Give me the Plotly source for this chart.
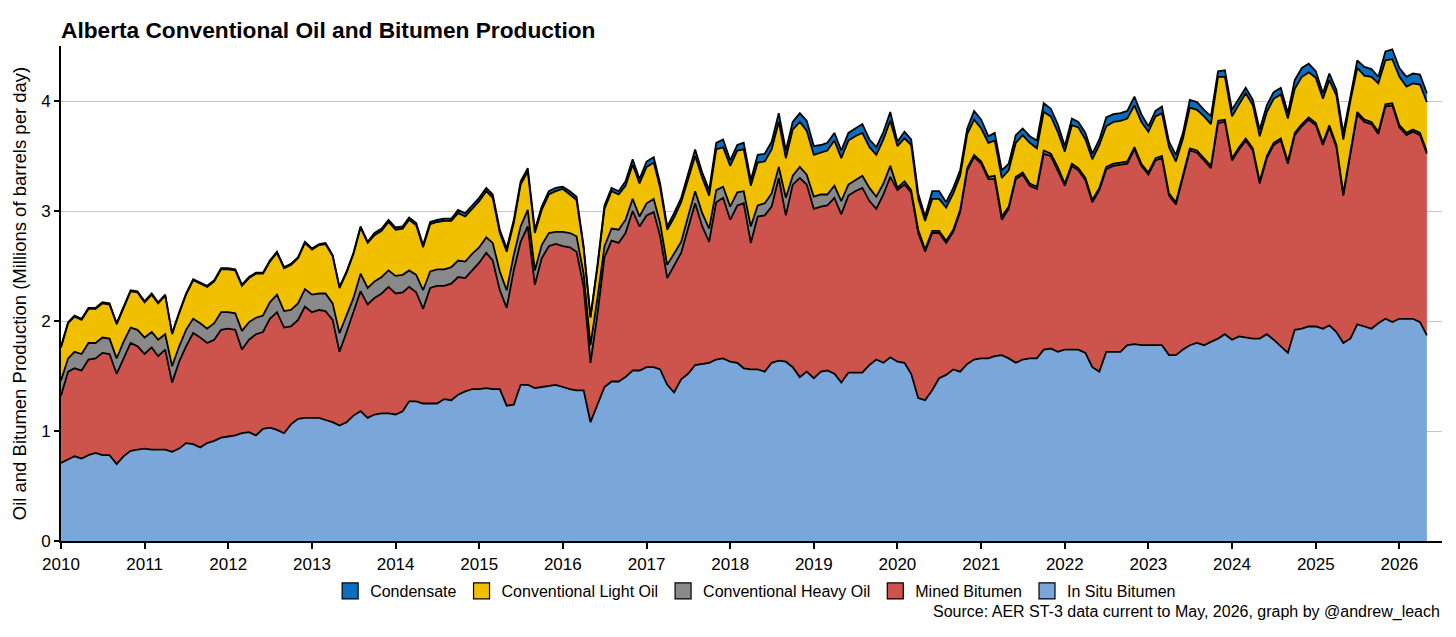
import pandas as pd
import plotly.graph_objects as go

# Monthly values, Jan 2010 - May 2026 (millions of barrels per day)
insitu = [
    .71, .74, .77, .75, .78, .80, .78, .78, .70, .77, .82, .83,
    .84, .83, .83, .83, .81, .84, .89, .88, .85, .89, .91, .94,
    .95, .96, .98, .99, .96, 1.02, 1.03, 1.01, .98, 1.06, 1.11, 1.12,
    1.12, 1.12, 1.10, 1.08, 1.05, 1.08, 1.14, 1.18, 1.12, 1.15, 1.16, 1.16,
    1.15, 1.18, 1.27, 1.27, 1.25, 1.25, 1.25, 1.29, 1.28, 1.33, 1.36, 1.38,
    1.38, 1.39, 1.38, 1.38, 1.23, 1.24, 1.42, 1.42, 1.39, 1.40, 1.41, 1.42,
    1.40, 1.38, 1.37, 1.37, 1.08, 1.24, 1.40, 1.45, 1.45, 1.49, 1.55, 1.55,
    1.58, 1.58, 1.56, 1.42, 1.35, 1.47, 1.52, 1.60, 1.61, 1.62, 1.65, 1.66,
    1.63, 1.62, 1.57, 1.56, 1.56, 1.54, 1.62, 1.64, 1.63, 1.58, 1.49, 1.54,
    1.48, 1.54, 1.55, 1.52, 1.44, 1.53, 1.53, 1.53, 1.60, 1.65, 1.62, 1.67,
    1.63, 1.62, 1.52, 1.30, 1.28, 1.37, 1.48, 1.51, 1.56, 1.54, 1.61, 1.65,
    1.66, 1.66, 1.68, 1.69, 1.66, 1.62, 1.65, 1.66, 1.66, 1.74, 1.75, 1.72,
    1.74, 1.74, 1.74, 1.71, 1.58, 1.54, 1.72, 1.72, 1.72, 1.78, 1.79, 1.78,
    1.78, 1.78, 1.78, 1.69, 1.69, 1.74, 1.78, 1.80, 1.78, 1.81,
    1.84, 1.88, 1.83, 1.86, 1.85, 1.84, 1.84, 1.88, 1.83, 1.77, 1.71, 1.92,
    1.93, 1.95, 1.95, 1.93, 1.96, 1.90, 1.80, 1.84, 1.97, 1.95, 1.93, 1.98,
    2.02, 1.99, 2.02, 2.02, 2.02, 1.99, 1.87,
]

mined = [
    .61, .80, .80, .80, .87, .86, .93, .92, .82, .89, .98, .94,
    .86, .93, .85, .91, .63, .79, .88, 1.01, 1.00, .91, .92, .98,
    .98, .96, .76, .84, .92, .88, .99, 1.07, .96, .89, .90, 1.01,
    .96, .98, .99, .93, .67, .82, .94, 1.09, 1.03, 1.06, 1.09, 1.15,
    1.10, 1.08, 1.04, .99, .86, 1.05, 1.07, 1.03, 1.06, 1.07, 1.03, 1.08,
    1.15, 1.23, 1.17, .90, .89, 1.22, 1.30, 1.44, .94, 1.17, 1.27, 1.28,
    1.28, 1.29, 1.26, .94, .54, .83, 1.18, 1.28, 1.26, 1.31, 1.45, 1.31,
    1.38, 1.41, 1.21, .97, 1.16, 1.15, 1.32, 1.47, 1.25, 1.10, 1.43, 1.46,
    1.29, 1.43, 1.50, 1.15, 1.39, 1.42, 1.42, 1.66, 1.33, 1.66, 1.81, 1.70,
    1.54, 1.50, 1.50, 1.60, 1.53, 1.61, 1.65, 1.68, 1.49, 1.37, 1.53, 1.64,
    1.56, 1.62, 1.65, 1.50, 1.35, 1.43, 1.32, 1.20, 1.25, 1.45, 1.76, 1.84,
    1.77, 1.63, 1.61, 1.23, 1.36, 1.67, 1.68, 1.57, 1.54, 1.78, 1.75, 1.65,
    1.49, 1.67, 1.63, 1.57, 1.50, 1.65, 1.66, 1.69, 1.70, 1.65, 1.77, 1.63,
    1.55, 1.68, 1.70, 1.45, 1.37, 1.56, 1.77, 1.73, 1.68, 1.58,
    1.96, 1.93, 1.63, 1.70, 1.79, 1.71, 1.41, 1.60, 1.77, 1.87, 1.72, 1.77,
    1.84, 1.88, 1.83, 1.67, 1.80, 1.68, 1.34, 1.69, 1.91, 1.86, 1.86, 1.72,
    1.93, 1.97, 1.74, 1.67, 1.70, 1.70, 1.65,
]

heavy = [
    .14, .12, .15, .15, .15, .14, .14, .14, .14, .15, .14, .15,
    .15, .14, .15, .14, .15, .14, .15, .13, .13, .13, .15, .16,
    .15, .15, .17, .16, .15, .15, .15, .16, .15, .15, .15, .16,
    .16, .15, .16, .15, .17, .15, .13, .16, .15, .15, .15, .15,
    .16, .16, .15, .16, .17, .15, .15, .15, .15, .15, .15, .15,
    .14, .14, .16, .17, .16, .14, .14, .15, .13, .12, .12, .11,
    .13, .13, .14, .12, .16, .15, .10, .11, .12, .12, .11, .09,
    .11, .12, .12, .12, .11, .10, .11, .11, .12, .12, .11, .10,
    .12, .12, .11, .15, .10, .11, .12, .10, .16, .08, .10, .09,
    .11, .11, .10, .11, .12, .10, .10, .11, .12, .11, .10, .10,
    .02, .03, .02, .03, .02, .02, .02, .02, .02, .02, .02, .02,
    .02, .02, .03, .03, .02, .02, .02, .02, .02, .03, .02, .03,
    .02, .02, .02, .02, .02, .02, .02, .02, .02, .02, .02, .02,
    .02, .02, .02, .02, .02, .02, .02, .02, .02, .02,
    .02, .02, .02, .02, .02, .02, .02, .02, .02, .02, .02, .02,
    .02, .02, .02, .02, .02, .02, .02, .02, .02, .02, .02, .02,
    .02, .02, .02, .02, .02, .02, .02,
]

light = [
    .30, .32, .32, .31, .31, .31, .31, .31, .31, .30, .33, .34,
    .32, .34, .33, .35, .29, .30, .32, .35, .36, .38, .38, .39,
    .39, .39, .41, .40, .40, .38, .37, .38, .39, .41, .41, .42,
    .41, .44, .45, .43, .41, .39, .40, .42, .41, .42, .42, .44,
    .42, .42, .46, .45, .39, .43, .43, .44, .42, .43, .41, .41,
    .42, .42, .41, .35, .35, .29, .38, .35, .34, .32, .35, .37,
    .39, .35, .33, .23, .25, .28, .34, .34, .32, .31, .31, .30,
    .33, .33, .32, .32, .32, .36, .34, .32, .32, .30, .37, .36,
    .37, .38, .38, .37, .39, .38, .40, .41, .36, .42, .41, .40,
    .38, .38, .40, .41, .39, .40, .40, .39, .37, .38, .40, .41,
    .38, .39, .41, .28, .26, .29, .29, .30, .33, .31, .31, .32,
    .30, .31, .32, .35, .33, .31, .34, .37, .35, .35, .34, .32,
    .29, .35, .37, .35, .37, .39, .37, .38, .38, .39, .38, .38,
    .37, .38, .39, .42, .37, .34, .37, .37, .38, .38,
    .40, .39, .38, .39, .41, .39, .41, .40, .40, .40, .39, .40,
    .43, .41, .41, .40, .41, .45, .49, .45, .40, .40, .41, .44,
    .40, .40, .44, .42, .42, .44, .45,
]

condensate = [
    .01, .01, .01, .01, .01, .01, .01, .01, .01, .01, .01, .01,
    .01, .01, .01, .01, .01, .01, .01, .01, .01, .01, .01, .01,
    .01, .01, .01, .01, .01, .01, .01, .01, .01, .01, .01, .01,
    .01, .01, .01, .01, .01, .01, .01, .01, .01, .02, .02, .02,
    .02, .02, .02, .02, .02, .02, .02, .02, .02, .03, .03, .03,
    .03, .03, .03, .03, .03, .03, .03, .03, .03, .03, .03, .03,
    .02, .03, .03, .02, .01, .02, .03, .03, .03, .04, .05, .04,
    .05, .05, .04, .03, .04, .04, .05, .06, .05, .05, .06, .07,
    .05, .05, .06, .05, .07, .07, .07, .08, .07, .07, .08, .09,
    .08, .07, .07, .07, .07, .07, .07, .08, .07, .07, .07, .08,
    .04, .06, .05, .05, .04, .07, .07, .05, .05, .05, .05, .08,
    .08, .06, .07, .07, .06, .07, .06, .06, .07, .08, .07, .07,
    .05, .06, .05, .06, .05, .05, .08, .07, .07, .07, .08, .07,
    .05, .05, .06, .05, .06, .05, .07, .07, .06, .07,
    .05, .06, .06, .05, .05, .05, .06, .06, .06, .06, .05, .08,
    .08, .08, .06, .05, .06, .05, .06, .04, .07, .08, .07, .06,
    .08, .09, .08, .09, .09, .09, .08,
]

series_names = ["In Situ Bitumen", "Mined Bitumen", "Conventional Heavy Oil",
                "Conventional Light Oil", "Condensate"]
series_colors = ["#7BA6DA", "#CD534D", "#898989", "#F0C000", "#0A6EBE"]
year_ticks = list(range(2010, 2027))

dates = pd.date_range("2010-01-01", periods=len(insitu), freq="MS")
series_values = [insitu, mined, heavy, light, condensate]

FONT = "Liberation Sans, Arial, sans-serif"

# page body adds an 8px offset; the figure is sized to fit the 1456x637 window
W, H = 1448, 629

fig = go.Figure()
for name, vals, col in zip(series_names, series_values, series_colors):
    fig.add_trace(go.Scatter(
        x=dates, y=vals, name=name, mode="lines", stackgroup="one",
        line=dict(color="black", width=1.8), fillcolor=col,
        showlegend=False,
    ))

# legend entries as square swatches (top of stack first)
for name, col in reversed(list(zip(series_names, series_colors))):
    fig.add_trace(go.Scatter(
        x=[None], y=[None], name=name, mode="markers",
        marker=dict(symbol="square", size=16, color=col,
                    line=dict(color="black", width=1.2)),
        showlegend=True,
    ))

fig.update_layout(
    width=W, height=H,
    margin=dict(l=53, r=14, t=38, b=96),
    paper_bgcolor="white", plot_bgcolor="white",
    font=dict(family=FONT, color="black", size=16),
    title=dict(
        text="<b>Alberta Conventional Oil and Bitumen Production</b>",
        x=0, xref="paper", xanchor="left",
        y=1 - 22 / H, yref="container", yanchor="middle",
        font=dict(family=FONT, size=22.7, color="black"),
    ),
    legend=dict(
        orientation="h", x=0.503, xanchor="center",
        y=-0.101, yanchor="middle",
        font=dict(family=FONT, size=16, color="black"),
        itemsizing="trace", traceorder="normal",
    ),
    showlegend=True,
    hovermode="x",
)

fig.update_xaxes(
    type="date",
    range=["2010-01-01", "2026-07-06"],
    tickvals=[f"{y}-01-01" for y in year_ticks],
    ticktext=[str(y) for y in year_ticks],
    showgrid=False, zeroline=False,
    showline=True, linecolor="black", linewidth=2.2,
    ticks="outside", ticklen=6, tickwidth=1.5, tickcolor="black",
    tickfont=dict(family=FONT, size=17, color="black"),
    automargin=False,
)

fig.update_yaxes(
    range=[0, 4.5],
    tickvals=[0, 1, 2, 3, 4],
    showgrid=True, gridcolor="#C6C6C6", gridwidth=1.3,
    zeroline=False,
    showline=True, linecolor="black", linewidth=2,
    ticks="outside", ticklen=5, tickwidth=1.5, tickcolor="black",
    tickfont=dict(family=FONT, size=17, color="black"),
    title=dict(text="Oil and Bitumen Production (Millions of barrels per day)",
               font=dict(family=FONT, size=18.5, color="black"), standoff=10),
    automargin=False,
)

fig.add_annotation(
    text="Source: AER ST-3 data current to May, 2026, graph by @andrew_leach",
    xref="paper", yref="paper", x=1.0, y=-0.1434,
    xanchor="right", yanchor="middle", showarrow=False,
    font=dict(family=FONT, size=16, color="black"),
)

fig.write_html("out.html")
